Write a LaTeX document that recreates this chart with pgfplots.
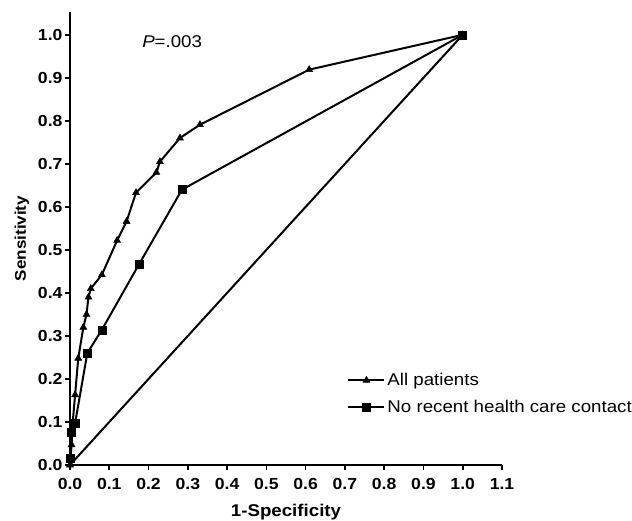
\documentclass[border=0pt]{standalone}
\usepackage{pgfplots}
\pgfplotsset{compat=1.18}
\usepackage{fontspec}
\setmainfont{Liberation Sans}[FakeStretch=1.1]
\begin{document}
\begin{tikzpicture}[x=1pt,y=1pt]
\useasboundingbox (-70,-55) rectangle (562,465);
\begin{axis}[
  at={(0,0)}, anchor=south west,
  scale only axis, width=432pt, height=453pt,
  xmin=0, xmax=1.1, ymin=0, ymax=1.053,
  axis x line=bottom, axis y line=left,
  axis line style={line width=2pt, -},
  xtick={0,0.1,...,1.1}, ytick={0,0.1,...,1.0},
  tick style={line width=1.6pt, black},
  tick align=outside, major tick length=5pt,
  /pgf/number format/assume math mode=true,
  /pgf/number format/.cd, fixed, fixed zerofill, precision=1, /pgfplots/.cd,
  ticklabel style={font=\fontsize{16}{17}\selectfont\bfseries},
  xticklabel style={yshift=-5pt},
  yticklabel style={xshift=1pt},
  xlabel={1-Specificity}, ylabel={Sensitivity},
  xlabel style={font=\fontsize{17}{18}\selectfont\bfseries, yshift=-7pt},
  ylabel style={font=\fontsize{15.5}{17}\selectfont\bfseries, yshift=2pt},
  clip=false,
  legend cell align=left,
  legend style={draw=none, fill=none, at={(axis cs:0.706,0.218)}, anchor=north west,
    font=\fontsize{17}{20}\selectfont, row sep=9pt, inner sep=0pt,
    nodes={inner sep=2pt}},
  legend image code/.code={\draw[#1, mark repeat=2, mark phase=2] plot coordinates {(0pt,0pt) (18pt,0pt) (36pt,0pt)};},
]
\addplot[black, line width=2pt, mark=triangle*, mark size=4pt, mark options={solid, line width=0.5pt}] coordinates {
(0,0) (0.004,0.047) (0.007,0.1) (0.013,0.163) (0.021,0.248) (0.034,0.32) (0.042,0.35)
(0.047,0.39) (0.053,0.41) (0.081,0.442) (0.12,0.522) (0.144,0.566) (0.168,0.633)
(0.22,0.68) (0.229,0.705) (0.28,0.76) (0.331,0.791) (0.609,0.919) (1,1)};
\addlegendentry{All patients}
\addplot[black, line width=2pt, mark=square*, mark size=4pt, mark options={solid, line width=0.5pt}] coordinates {
(0,0.016) (0.004,0.077) (0.013,0.097) (0.044,0.26) (0.081,0.314) (0.176,0.467) (0.285,0.64) (1,1)};
\addlegendentry{No recent health care contact}
\addplot[black, line width=2pt, forget plot] coordinates {(0,0) (1,1)};
\node[anchor=west, font=\fontsize{17}{19}\selectfont] at (axis cs:0.175,0.985) {\textit{P}=.003};
\end{axis}
\end{tikzpicture}
\end{document}
